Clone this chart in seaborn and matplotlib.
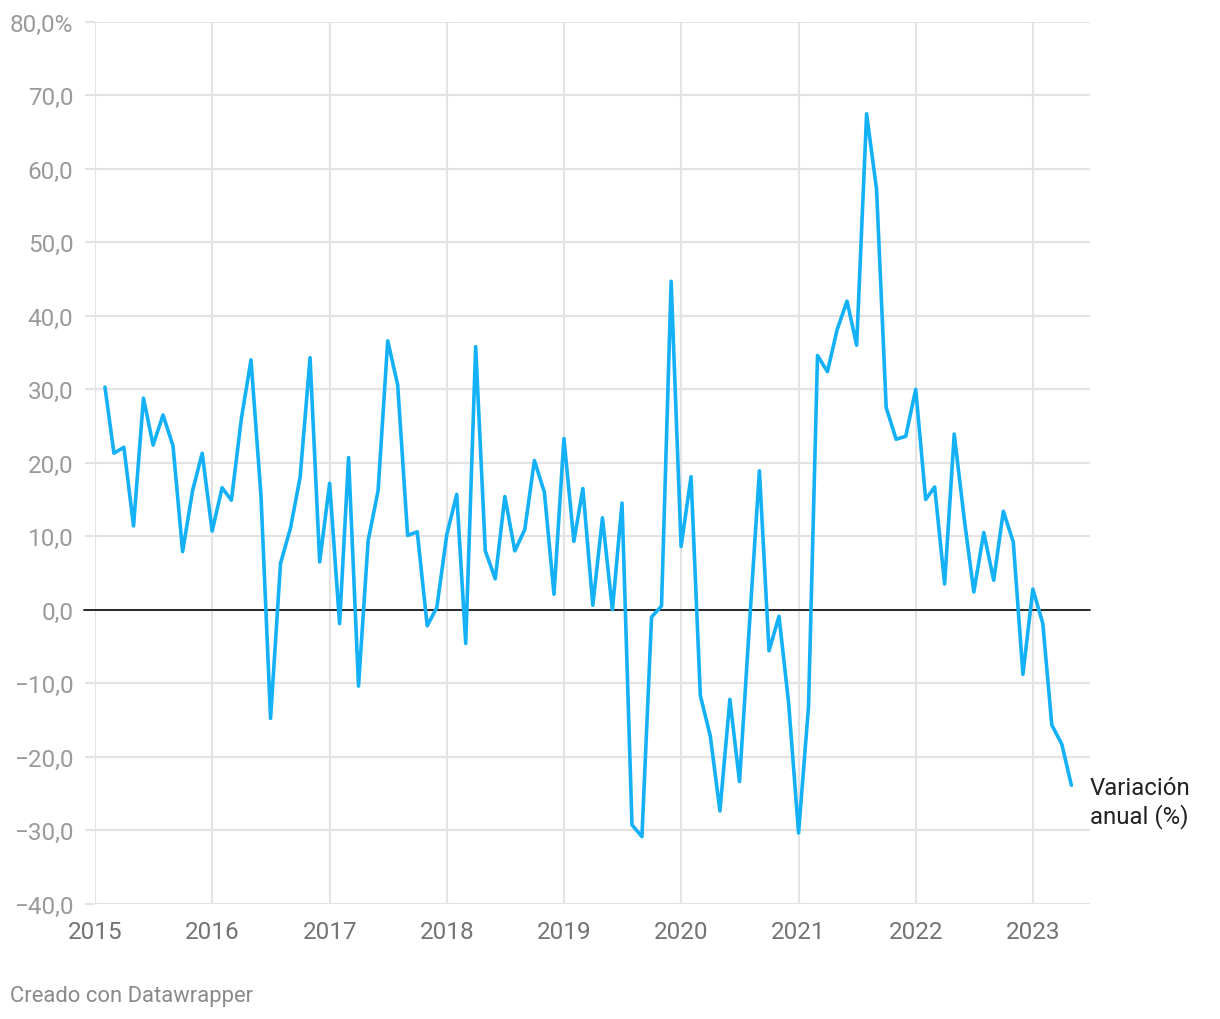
import numpy as np
import pandas as pd
import matplotlib
matplotlib.use("Agg")
import matplotlib.pyplot as plt
import seaborn as sns

# ---- data (monthly, Feb 2015 - May 2023) ----
start_month = "2015-02-01"
values_2015 = [30.3, 21.3, 22.1, 11.4, 28.8, 22.4, 26.5, 22.3, 7.9, 16.2, 21.3]
values_2016 = [10.7, 16.6, 14.9, 26.0, 34.0, 15.6, -14.8, 6.3, 11.1, 18.0, 34.3, 6.5]
values_2017 = [17.2, -1.9, 20.7, -10.4, 9.4, 16.2, 36.6, 30.6, 10.1, 10.6, -2.2, 0.3]
values_2018 = [10.2, 15.7, -4.6, 35.8, 8.0, 4.2, 15.4, 8.0, 10.9, 20.3, 16.0, 2.1]
values_2019 = [23.3, 9.3, 16.5, 0.6, 12.5, 0.0, 14.5, -29.3, -30.9, -1.0, 0.5, 44.7]
values_2020 = [8.6, 18.1, -11.7, -17.2, -27.4, -12.2, -23.4, -2.0, 18.9, -5.6, -0.9, -12.7]
values_2021 = [-30.4, -13.2, 34.6, 32.4, 38.1, 42.0, 36.0, 67.5, 57.2, 27.5, 23.2, 23.6]
values_2022 = [30.0, 15.0, 16.7, 3.5, 23.9, 12.4, 2.4, 10.5, 4.0, 13.4, 9.2, -8.8]
values_2023 = [2.8, -1.9, -15.7, -18.3, -23.9]

year_ticks = [2015, 2016, 2017, 2018, 2019, 2020, 2021, 2022, 2023]
y_ticks = [-40, -30, -20, -10, 0, 10, 20, 30, 40, 50, 60, 70, 80]
series_label = "Variación\nanual (%)"
footer = "Creado con Datawrapper"

values = (values_2015 + values_2016 + values_2017 + values_2018 + values_2019
          + values_2020 + values_2021 + values_2022 + values_2023)
dates = pd.date_range(start_month, periods=len(values), freq="MS")
df = pd.DataFrame({"fecha": dates, "variacion": values})

# ---- style ----
sns.set_theme(style="white")
plt.rcParams["font.family"] = ["Roboto", "DejaVu Sans"]

GRID = "#e3e3e3"
LINE = "#14b1f6"
TICKY = "#9a9a9a"
TICKX = "#737373"

fig = plt.figure(figsize=(12.2, 10.2), dpi=100)
ax = fig.add_axes([95 / 1220, 115.5 / 1020, 995 / 1220, 881.5 / 1020])

sns.lineplot(data=df, x="fecha", y="variacion", ax=ax, color=LINE,
             linewidth=2.6, zorder=3)

ax.set_ylim(-40, 80)
ax.set_xlim(pd.Timestamp("2015-01-01"), pd.Timestamp("2023-06-28"))

ax.set_yticks(y_ticks)
ylabels = []
for v in y_ticks:
    s = f"{abs(v)},0"
    if v < 0:
        s = "\u2212" + s
    if v == 80:
        s = s + "%"
    ylabels.append(s)
ax.set_yticklabels(ylabels)

xt = [pd.Timestamp(f"{y}-01-01") for y in year_ticks]
ax.set_xticks(xt)
ax.set_xticklabels([str(y) for y in year_ticks])

ax.grid(True, axis="both", color=GRID, linewidth=1.5, zorder=0)
for s in ax.spines.values():
    s.set_visible(False)

ax.tick_params(axis="y", length=7.5, width=1.5, color=GRID, pad=8,
               labelsize=17.5, labelcolor=TICKY, direction="out", left=True)
ax.tick_params(axis="x", length=0, pad=12, labelsize=17.5, labelcolor=TICKX)

ax.axhline(0, xmin=-11 / 995, xmax=1, color="#1a1a1a", linewidth=1.3,
           clip_on=False, zorder=2)

ax.set_xlabel("")
ax.set_ylabel("")

# end label
ax.annotate(series_label, xy=(1, 0), xycoords="axes fraction",
            xytext=(1090 / 1220, 1 - 777 / 1020), textcoords="figure fraction",
            ha="left", va="top", fontsize=17.3, color="#222222",
            linespacing=1.2)

fig.text(10 / 1220, 1 - 997 / 1020, footer, ha="left", va="center",
         fontsize=15.8, color="#8a8a8a")

fig.savefig("out.png", dpi=100)
